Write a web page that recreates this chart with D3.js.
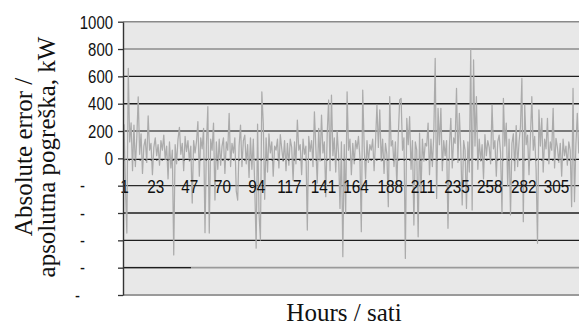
<!DOCTYPE html>
<html><head><meta charset="utf-8">
<script src="https://cdn.jsdelivr.net/npm/d3@7"></script>
<style>body{margin:0;background:#fff} svg{display:block}</style>
</head><body><svg id="c" width="579" height="326"></svg>
<script>
// ---- data ----
const errors = [
 250,-200,-547,658,120,260,-90,244,-60,150,450,30,180,-110,90,140,-30,310,60,110,
 -120,80,150,20,100,-50,130,60,170,-10,90,-150,120,-70,60,-707,100,-40,140,227,
 30,110,-90,160,50,130,-20,90,-327,130,40,120,268,-130,150,70,220,-544,100,378,
 -547,140,60,258,-305,120,-80,140,-50,90,150,-110,120,60,330,-60,110,40,150,-240,
 -305,90,244,-60,130,170,-40,100,-140,150,-80,140,-200,-657,250,-400,-598,487,258,-300,
 150,-100,180,40,120,-130,90,60,140,-70,173,70,-20,130,-90,110,-50,140,80,-160,
 120,-40,280,60,100,-120,140,30,90,-525,160,50,130,-60,341,80,-180,220,-20,317,
 40,120,-281,180,427,-90,463,20,150,-100,200,30,-366,120,-720,100,-400,487,60,140,
 -120,110,-40,130,70,160,10,-537,500,90,-150,130,-30,100,60,140,-90,120,390,80,
 354,-20,140,-110,110,30,-354,451,90,130,-60,120,-200,160,427,439,60,150,-732,293,
 100,305,-80,130,-488,120,60,-574,184,-250,140,-20,110,90,258,-120,140,-60,170,732,
 -293,366,100,366,-90,130,20,130,-512,90,293,-70,150,110,512,-30,330,70,-341,130,
 60,-366,120,-100,797,-378,720,90,451,-80,140,-20,100,-150,173,20,130,80,-40,390,
 70,130,-130,120,170,40,-400,439,90,258,-200,140,-414,110,180,-90,240,-60,120,230,
 585,-463,390,100,170,-120,150,451,60,160,-80,-622,354,90,293,-100,140,70,293,-40,
 120,60,366,-70,147,80,-30,110,-130,140,20,90,-50,120,60,-354,512,-317,100,330,40,120,60
];
const hours = errors.map((d, i) => i + 1);
const xTickValues = [1, 23, 47, 70, 94, 117, 141, 164, 188, 211, 235, 258, 282, 305];
const yTickValues = [1000, 800, 600, 400, 200, 0, -200, -400, -600, -800, -1000];
const yTickLabels = ["1000", "800", "600", "400", "200", "0", "-", "-", "-", "-", "-"];
const yTitleLines = ["Absolute error /", "apsolutna pogreška, kW"];
const xTitle = "Hours / sati";

// ---- styles ----
const gridStyle = {
  "1000": ["#8a8a8a", 1.6], "800": ["#8c8c8c", 1.6], "600": ["#1e1e1e", 1.4],
  "400": ["#1e1e1e", 1.4], "200": ["#555", 1.4], "0": ["#111", 1],
  "-200": ["#2a2a2a", 1.3], "-400": ["#1e1e1e", 1.4], "-600": ["#1e1e1e", 1.4],
  "-800": ["#9a9a9a", 1.6], "-1000": ["#9a9a9a", 2]
};
const negLabelRight = {"-200": 85, "-400": 85, "-600": 85, "-800": 85, "-1000": 80};

const W = 579, H = 326;
const pLeft = 123, pTop = 21.7, pBottom = 295;
const svg = d3.select("#c");

const y = d3.scaleLinear().domain([-1000, 1000]).range([pBottom, pTop]);
const x = d3.scaleLinear().domain([1, 322]).range([124, 124 + 321 * 1.421]);

svg.append("defs").append("clipPath").attr("id", "clip")
  .append("rect").attr("x", pLeft).attr("y", pTop - 2).attr("width", W - pLeft).attr("height", pBottom - pTop + 4);

// plot background
svg.append("rect").attr("x", pLeft).attr("y", pTop).attr("width", W - pLeft).attr("height", pBottom - pTop)
  .attr("fill", "#e8e8e8");

// gridlines
const grid = svg.append("g");
grid.selectAll("line").data(yTickValues.filter(v => v !== 0)).join("line")
  .attr("x1", pLeft).attr("x2", W)
  .attr("y1", d => y(d)).attr("y2", d => y(d))
  .attr("stroke", d => gridStyle[d][0]).attr("stroke-width", d => gridStyle[d][1]);
grid.append("line").attr("x1", pLeft).attr("x2", 191).attr("y1", y(-800)).attr("y2", y(-800))
  .attr("stroke", "#1e1e1e").attr("stroke-width", 1.4);

// zero axis line (under the series)
svg.append("line").attr("x1", pLeft).attr("x2", W).attr("y1", y(0) + 1).attr("y2", y(0) + 1)
  .attr("stroke", "#111").attr("stroke-width", 1.3);

// series
svg.append("path").datum(errors)
  .attr("clip-path", "url(#clip)")
  .attr("fill", "none").attr("stroke", "#ababab").attr("stroke-width", 1.25)
  .attr("stroke-linejoin", "round")
  .attr("d", d3.line().x((d, i) => x(hours[i])).y(d => y(d)));

// zero line showing through the series
svg.append("line").attr("x1", pLeft).attr("x2", W).attr("y1", y(0) + 1.5).attr("y2", y(0) + 1.5)
  .attr("stroke", "#222").attr("stroke-width", 1.2).attr("stroke-dasharray", "1.5 4");

// x axis (at 0) with labels, drawn over the series
const xAxis = svg.append("g").attr("transform", `translate(0,${y(0)})`)
  .call(d3.axisBottom(x).tickValues(xTickValues).tickSize(0).tickSizeOuter(0).tickFormat(d3.format("d")));
xAxis.select(".domain").remove();
xAxis.selectAll("text")
  .attr("y", 28.5).attr("dy", "0.35em")
  .attr("transform", "scale(0.85,1)")
  .attr("font-family", "'Liberation Sans', Arial, sans-serif").attr("font-size", 18).attr("fill", "#111");

// y axis
const yAxis = svg.append("g").attr("transform", `translate(${pLeft},0)`)
  .call(d3.axisLeft(y).tickValues(yTickValues).tickSize(5).tickSizeOuter(0)
    .tickFormat((d, i) => yTickLabels[i]));
yAxis.select(".domain").attr("stroke", "#333").attr("stroke-width", 1.4);
yAxis.selectAll(".tick line").attr("stroke", "#333").attr("stroke-width", 1.3);
yAxis.selectAll("text")
  .attr("font-family", "'Liberation Sans', Arial, sans-serif").attr("font-size", 18).attr("fill", "#111")
  .attr("dy", "0.35em")
  .attr("transform", "scale(0.83,1)")
  .attr("x", d => d < 0 ? (negLabelRight[d] - pLeft) / 0.83 : -10 / 0.83);

// titles
svg.append("g").selectAll("text").data(yTitleLines).join("text")
  .attr("transform", (d, i) => `translate(${i === 0 ? 32 : 55},157) rotate(-90)`)
  .attr("text-anchor", "middle")
  .attr("font-family", "'Liberation Serif', 'Times New Roman', serif").attr("font-size", 25).attr("fill", "#111")
  .text(d => d);
svg.append("text").attr("x", 344).attr("y", 321).attr("text-anchor", "middle")
  .attr("font-family", "'Liberation Serif', 'Times New Roman', serif").attr("font-size", 25).attr("fill", "#111")
  .text(xTitle);
</script>
</body></html>
